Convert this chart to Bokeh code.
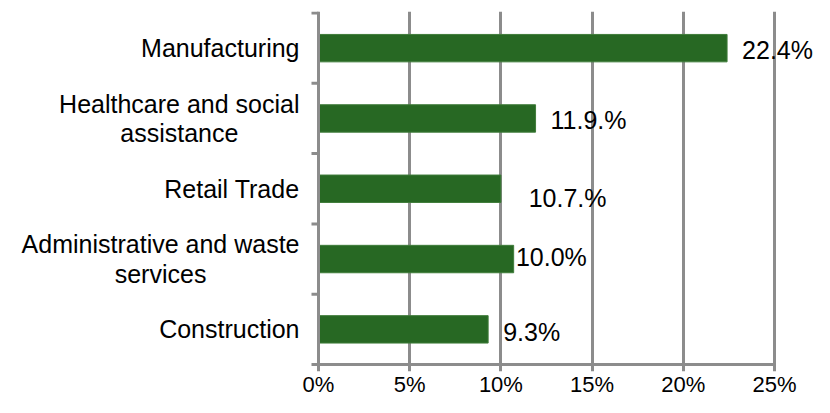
import math
from bokeh.plotting import figure
from bokeh.models import Range1d, FixedTicker
from bokeh.core.properties import value
from bokeh.embed import file_html
from bokeh.resources import INLINE

# ---- data ----
categories = [
    "Manufacturing",
    "Healthcare and social\nassistance",
    "Retail Trade",
    "Administrative and waste\nservices",
    "Construction",
]
bar_values = [22.4, 11.9, 10.0, 10.7, 9.3]
label_values = [22.4, 11.9, 10.7, 10.0, 9.3]
label_texts = ["22.4%", "11.9.%", "10.7.%", "10.0%", "9.3%"]
x_ticks = [0, 5, 10, 15, 20, 25]
x_tick_labels = ["0%", "5%", "10%", "15%", "20%", "25%"]

# ---- layout / style ----
FONT = "Liberation Sans"
GRAY = "#8c8c8c"
GREEN = "#276823"
W = 814
TOP, BOTTOM = 11, 26   # borders, px
FH = 397 - TOP - BOTTOM
ZERO_PX = 318          # canvas x of the 0% line
FULL_PX = 774          # canvas x of the 25% line
TICK_PX = 7            # tick length
TOP_PAD = 1.5
CAT_SIZE = 25          # px
CAT_GAP = 19           # px between label block and axis
label_nudge_px = [2, 2, 9, -2, 3]   # downward nudge of value labels

n = len(categories)
ppu = (FULL_PX - ZERO_PX) / x_ticks[-1]
ppy = (FH - TICK_PX - TOP_PAD) / n
ypos = [n - i - 0.5 for i in range(n)]
bounds = list(range(n + 1))

p = figure(
    frame_width=W, frame_height=FH,
    x_range=Range1d(-ZERO_PX / ppu, (W - ZERO_PX) / ppu),
    y_range=Range1d(-TICK_PX / ppy, n + TOP_PAD / ppy),
    output_backend="svg", toolbar_location=None,
    y_axis_location=None,
    min_border_left=0, min_border_right=0,
    min_border_top=TOP, min_border_bottom=BOTTOM,
)
p.outline_line_color = None
p.background_fill_color = "white"
p.border_fill_color = "white"

# x axis: labels only (line and ticks drawn in the frame)
xa = p.xaxis[0]
xa.ticker = FixedTicker(ticks=x_ticks)
xa.bounds = (x_ticks[0], x_ticks[-1])
xa.major_label_overrides = dict(zip(x_ticks, x_tick_labels))
xa.axis_line_color = None
xa.major_tick_line_color = None
xa.major_tick_out = 0
xa.major_tick_in = 0
xa.minor_tick_line_color = None
xa.major_label_text_font = FONT
xa.major_label_text_font_size = "22px"
xa.major_label_text_color = "black"
xa.major_label_standoff = 0

# vertical grid lines (they run down past the axis, forming the ticks)
p.xgrid.ticker = FixedTicker(ticks=x_ticks)
p.xgrid.grid_line_color = GRAY
p.xgrid.grid_line_width = 3
p.ygrid.grid_line_color = None

# bars
p.hbar(y=ypos, left=0, right=bar_values, height=0.39,
       fill_color=GREEN, line_color="#3f7c3a", line_width=1)

# axis lines and category boundary ticks
p.segment(x0=[0], y0=[bounds[0]], x1=[0], y1=[bounds[-1]],
          line_color=GRAY, line_width=3)
p.segment(x0=[x_ticks[0]], y0=[0], x1=[x_ticks[-1]], y1=[0],
          line_color=GRAY, line_width=3)
p.ray(x=[0] * len(bounds), y=bounds, length=TICK_PX, length_units="screen",
      angle=math.pi, line_color=GRAY, line_width=3)

# category labels (multi-line: lines centred, block right-aligned)
def text_width_em(s):
    w = {" ": .278, "i": .222, "l": .222, "t": .278, "f": .278, "r": .333,
         "c": .5, "s": .5, "v": .5, "M": .833, "H": .722, "A": .667,
         "C": .722, "R": .722, "T": .611, "w": .722, "m": .833}
    return sum(w.get(ch, .556) for ch in s)

single_y, single_t, multi_y, multi_t, multi_dx = [], [], [], [], []
for y, cat in zip(ypos, categories):
    lines = cat.split("\n")
    if len(lines) == 1:
        single_y.append(y); single_t.append(cat)
    else:
        wpx = max(text_width_em(l) for l in lines) * CAT_SIZE
        multi_y.append(y); multi_t.append(cat); multi_dx.append(-CAT_GAP - wpx / 2)

p.text(x=[0] * len(single_y), y=single_y, text=single_t, x_offset=-CAT_GAP,
       text_align="right", text_baseline="middle",
       text_font=value(FONT), text_font_size=f"{CAT_SIZE}px", text_color="black")
p.text(x=[0] * len(multi_y), y=multi_y, text=multi_t, x_offset=multi_dx,
       text_align="center", text_baseline="middle", text_line_height=1.05,
       text_font=value(FONT), text_font_size=f"{CAT_SIZE}px", text_color="black")

# value labels
p.text(x=label_values, y=ypos, text=label_texts, x_offset=15, y_offset=label_nudge_px,
       text_align="left", text_baseline="middle",
       text_font=value(FONT), text_font_size="25px", text_color="black")

open("out.html", "w").write(file_html(p, INLINE))
